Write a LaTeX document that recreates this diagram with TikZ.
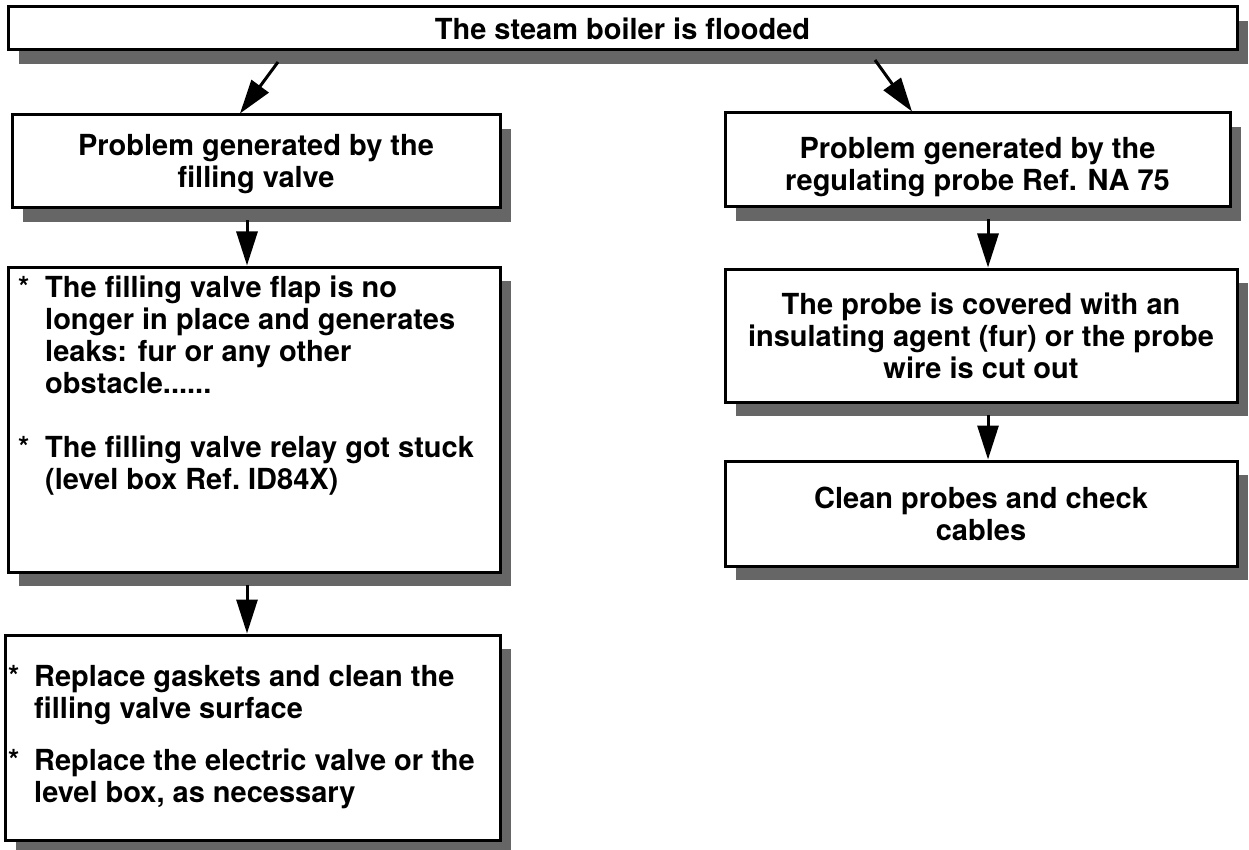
\documentclass[tikz,border=0pt]{standalone}
\usepackage{fontspec}
\setmainfont{TeX Gyre Heros}
\usetikzlibrary{arrows.meta,shadows}
\newcommand{\lowered}[2]{\raisebox{#1}[\height][\depth]{\begin{tabular}{@{}c@{}}#2\end{tabular}}}
\begin{document}
\begin{tikzpicture}[x=1pt,y=-1pt,
  box/.style={draw=black, line width=3pt, fill=white, rectangle, inner sep=0pt,
    align=center, font=\bfseries\fontsize{29}{32}\selectfont,
    drop shadow={shadow xshift=11pt, shadow yshift=-14pt, fill=black!60, opacity=1}},
  txt/.style={inner sep=0pt, anchor=base west, font=\bfseries\fontsize{29}{32}\selectfont},
  arr/.style={line width=3pt, -{Triangle[length=34pt,width=21pt]}}
]
\useasboundingbox[fill=white] (0,0) rectangle (1249,850);

% boxes
\node[box, minimum width=1229pt, minimum height=43pt] (top) at (622.5,28.5) {The steam boiler is flooded};
\node[box, minimum width=488pt, minimum height=93pt] (lA) at (256,161.5) {\lowered{-4pt}{Problem generated by the\\filling valve}};
\node[box, minimum width=505pt, minimum height=94pt] (rA) at (977.5,160) {\lowered{-8pt}{Problem generated by the\\regulating probe Ref. NA 75}};
\node[box, minimum width=492pt, minimum height=305pt] (lB) at (254,419.5) {};
\node[box, minimum width=495pt, minimum height=205pt] (lC) at (252.5,737.5) {};
\node[box, minimum width=512pt, minimum height=133pt] (rB) at (981,335.5) {The probe is covered with an\\insulating agent (fur) or the probe\\wire is cut out};
\node[box, minimum width=512pt, minimum height=105pt] (rC) at (981,513.5) {Clean probes and check\\cables};

% texts of the left boxes
\node[txt] (lBt) at (18,297) {\begin{tabular}[t]{@{}p{27pt}@{}l@{}}
{*}&The filling valve flap is no\\
 &longer in place and generates\\
 &leaks: fur or any other\\
 &obstacle......\\
 & \\
{*}&The filling valve relay got stuck\\
 &(level box Ref.\ ID84X)
\end{tabular}};
\node[txt] (lCt) at (8,686) {\begin{tabular}[t]{@{}p{26pt}@{}l@{}}
{*}&Replace gaskets and clean the\\
 &filling valve surface\\[20pt]
{*}&Replace the electric valve or the\\
 &level box, as necessary
\end{tabular}};

% connectors
\coordinate (d1) at (278,62);
\coordinate (d2) at (875,60);
\draw[arr] (d1) -- ([xshift=-16pt]lA.north);
\draw[arr] (d2) -- ([xshift=-65.5pt]rA.north);
\draw[arr] ([xshift=-9pt,yshift=-11pt]lA.south) -- ([xshift=-7pt]lB.north);
\draw[arr] ([xshift=-7pt,yshift=-11pt]lB.south) -- ([xshift=-5.5pt]lC.north);
\draw[arr] ([xshift=10.5pt,yshift=-11pt]rA.south) -- ([xshift=7pt]rB.north);
\draw[arr] ([xshift=7pt,yshift=-11pt]rB.south) -- ([xshift=7pt]rC.north);
\end{tikzpicture}
\end{document}
